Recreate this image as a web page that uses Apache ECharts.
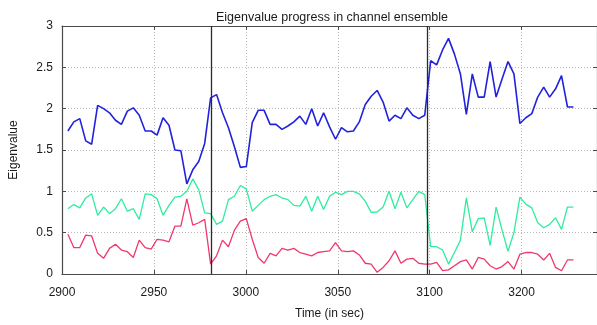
<!DOCTYPE html>
<html><head><meta charset="utf-8">
<script src="https://cdn.jsdelivr.net/npm/echarts@6/dist/echarts.min.js"></script>
<style>html,body{margin:0;padding:0;background:#fff}#c{width:597px;height:325px}</style>
</head><body><div id="c"></div>
<script>
// Sample timing (seconds)
const sampleStart = 2903.2;
const sampleStep = 3.235;

// Eigenvalue series
const eigBlue = [1.73,1.84,1.88,1.61,1.57,2.04,2.00,1.95,1.86,1.81,1.97,2.01,1.92,1.73,1.73,1.68,1.89,1.80,1.50,1.49,
  1.09,1.26,1.36,1.58,2.13,2.17,1.95,1.77,1.54,1.29,1.30,1.83,1.98,1.98,1.81,1.81,1.75,1.79,1.84,1.91,
  1.81,2.00,1.79,1.95,1.78,1.63,1.77,1.72,1.73,1.84,2.05,2.15,2.22,2.08,1.85,1.92,1.88,2.01,1.92,1.88,
  1.92,2.58,2.53,2.71,2.85,2.66,2.42,1.93,2.42,2.14,2.14,2.57,2.14,2.36,2.57,2.42,1.82,1.89,1.94,2.14,
  2.26,2.14,2.24,2.40,2.02,2.02];
const eigGreen = [0.79,0.84,0.80,0.92,0.97,0.71,0.81,0.73,0.79,0.91,0.76,0.79,0.66,0.97,0.96,0.91,0.71,0.83,0.93,0.94,
  1.00,1.15,1.02,0.74,0.73,0.60,0.64,0.90,0.94,1.07,1.03,0.76,0.83,0.90,0.94,0.96,0.92,0.90,0.83,0.82,
  0.94,0.76,0.94,0.78,0.94,0.99,0.96,1.00,1.00,0.97,0.88,0.745,0.75,0.81,1.00,0.79,0.99,0.80,0.90,1.00,
  0.96,0.33,0.33,0.29,0.12,0.26,0.41,0.92,0.51,0.67,0.68,0.345,0.81,0.53,0.275,0.50,0.93,0.845,0.80,0.62,
  0.56,0.60,0.68,0.54,0.81,0.81];
const eigRed = [0.48,0.32,0.32,0.47,0.46,0.25,0.19,0.31,0.36,0.29,0.27,0.20,0.41,0.32,0.30,0.42,0.41,0.39,0.58,0.58,
  0.91,0.59,0.62,0.66,0.12,0.22,0.41,0.33,0.53,0.64,0.67,0.42,0.20,0.13,0.25,0.22,0.31,0.29,0.31,0.26,
  0.24,0.22,0.26,0.27,0.28,0.38,0.28,0.27,0.28,0.23,0.13,0.12,0.02,0.08,0.16,0.28,0.13,0.18,0.19,0.13,
  0.12,0.12,0.14,0.04,0.05,0.10,0.15,0.17,0.06,0.20,0.18,0.10,0.06,0.09,0.15,0.06,0.24,0.26,0.26,0.24,
  0.17,0.25,0.08,0.04,0.17,0.17];

// Event markers (vertical black lines)
const eventTimes = [2981, 3098.6];

// Tick labels as printed on the reference
const xTickValues = [2900, 2950, 3000, 3050, 3100, 3150];
const xTickLabels = ['2900', '2950', '3000', '3050', '3100', '3200'];

const times = eigBlue.map((_, i) => +(sampleStart + sampleStep * i).toFixed(2));
const pairs = arr => arr.map((v, i) => [times[i], v]);

const font = 'Liberation Sans, Arial, Helvetica, sans-serif';
const frame = '#4a4a4a';
const gridLine = { show: true, lineStyle: { color: '#b8b8b8', type: [1, 2], width: 1 } };

const chart = echarts.init(document.getElementById('c'), null, { renderer: 'canvas' });
chart.setOption({
  backgroundColor: '#fff',
  animation: false,
  title: {
    text: 'Eigenvalue progress in channel ensemble',
    left: 327, top: 6, textAlign: 'center',
    textStyle: { fontFamily: font, fontSize: 12.5, fontWeight: 'normal', color: '#1a1a1a' }
  },
  grid: { left: 57, right: 0, top: 26, bottom: 46, containLabel: false },
  xAxis: [{
    type: 'value', min: 2900, max: 3191, interval: 50, position: 'bottom',
    name: 'Time (in sec)', nameLocation: 'middle', nameGap: 34,
    nameTextStyle: { fontFamily: font, fontSize: 12, color: '#1a1a1a' },
    axisLine: { show: true, onZero: false, lineStyle: { color: frame, width: 1.2 } },
    axisTick: { show: true, inside: true, length: 4, lineStyle: { color: frame } },
    axisLabel: {
      margin: 13, fontFamily: font, fontSize: 12, color: '#1a1a1a', showMaxLabel: false,
      formatter: v => { const i = xTickValues.indexOf(v); return i >= 0 ? xTickLabels[i] : ''; }
    },
    splitLine: gridLine
  }, {
    type: 'value', min: 2900, max: 3191, interval: 50, position: 'top',
    axisLine: { show: true, onZero: false, lineStyle: { color: frame, width: 1.2 } },
    axisTick: { show: true, inside: true, length: 4, lineStyle: { color: frame } },
    axisLabel: { show: false }, splitLine: { show: false }
  }],
  yAxis: [{
    type: 'value', min: 0, max: 3, interval: 0.5, position: 'left',
    name: 'Eigenvalue', nameLocation: 'middle', nameGap: 42,
    nameTextStyle: { fontFamily: font, fontSize: 12, color: '#1a1a1a' },
    axisLine: { show: true, onZero: false, lineStyle: { color: frame, width: 1.2 } },
    axisTick: { show: true, inside: true, length: 4, lineStyle: { color: frame } },
    axisLabel: { margin: 9, fontFamily: font, fontSize: 12, color: '#1a1a1a' },
    splitLine: gridLine
  }, {
    type: 'value', min: 0, max: 3, interval: 0.5, position: 'right',
    axisLine: { show: true, onZero: false, lineStyle: { color: frame, width: 1.2 } },
    axisTick: { show: true, inside: true, length: 4, lineStyle: { color: frame } },
    axisLabel: { show: false }, splitLine: { show: false }
  }],
  series: [{
    name: 'red', type: 'line', data: pairs(eigRed), symbol: 'none',
    lineStyle: { color: '#f0386c', width: 1.3 },
    markLine: {
      silent: true, symbol: 'none', label: { show: false },
      lineStyle: { color: '#2a2a2a', width: 1.3, type: 'solid' },
      data: eventTimes.map(t => ({ xAxis: t }))
    }
  }, {
    name: 'green', type: 'line', data: pairs(eigGreen), symbol: 'none',
    lineStyle: { color: '#30ec9e', width: 1.3 }
  }, {
    name: 'blue', type: 'line', data: pairs(eigBlue), symbol: 'none',
    lineStyle: { color: '#2222dc', width: 1.6 }
  }]
});
</script></body></html>
